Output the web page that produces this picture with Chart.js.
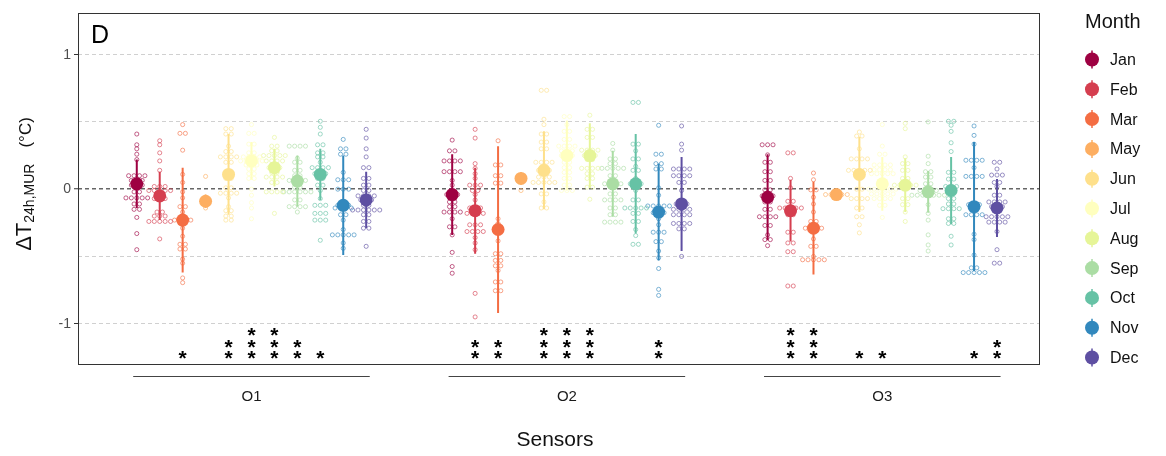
<!DOCTYPE html>
<html>
<head>
<meta charset="utf-8">
<script src="https://cdn.jsdelivr.net/npm/chart.js@4"></script>
<style>
  html, body { margin: 0; padding: 0; background: #fff; }
</style>
</head>
<body>
<canvas id="myChart" width="1166" height="456"></canvas>
<script>
const groups = ["O1", "O2", "O3"];
const months = ["Jan", "Feb", "Mar", "May", "Jun", "Jul", "Aug", "Sep", "Oct", "Nov", "Dec"];
const monthColors = ["#9E0142", "#D53E4F", "#F46D43", "#FDAE61", "#FEE08B", "#FFFFBF",
                     "#E6F598", "#ABDDA4", "#66C2A5", "#3288BD", "#5E4FA2"];
const yTicks = [-1, -0.5, 0, 0.5, 1];

// monthly mean and sd per sensor
const meanO1 = [0.04, -0.05, -0.23, -0.09, 0.11, 0.21, 0.16, 0.06, 0.11, -0.12, -0.08];
const sdO1   = [0.18, 0.18, 0.39, 0.05, 0.30, 0.14, 0.14, 0.19, 0.19, 0.37, 0.21];
const meanO2 = [-0.04, -0.16, -0.30, 0.08, 0.14, 0.25, 0.25, 0.04, 0.04, -0.17, -0.11];
const sdO2   = [0.30, 0.32, 0.62, 0.045, 0.29, 0.26, 0.24, 0.245, 0.37, 0.36, 0.35];
const meanO3 = [-0.06, -0.16, -0.29, -0.04, 0.11, 0.04, 0.03, -0.02, -0.01, -0.13, -0.14];
const sdO3   = [0.32, 0.23, 0.345, 0.02, 0.28, 0.20, 0.20, 0.155, 0.25, 0.48, 0.215];

// number of significance stars per month
const starsO1 = [0, 0, 1, 0, 2, 3, 3, 2, 1, 0, 0];
const starsO2 = [0, 2, 2, 0, 3, 3, 3, 0, 0, 2, 0];
const starsO3 = [0, 3, 3, 0, 1, 1, 0, 0, 0, 1, 2];

// daily values (dot plot) per month
const dotsO1 = [
  [0.41,0.33,0.30,0.26,0.22,0.10,0.10,0.10,0.10,0.065,0.065,0.065,0.03,0.03,0.03,-0.02,-0.02,-0.065,-0.065,-0.065,-0.065,-0.065,-0.11,-0.11,-0.15,-0.15,-0.21,-0.33,-0.45],
  [0.36,0.33,0.27,0.21,0.14,0.02,0.02,0.02,-0.01,-0.01,-0.01,-0.01,-0.01,-0.07,-0.07,-0.07,-0.17,-0.17,-0.20,-0.20,-0.20,-0.24,-0.24,-0.24,-0.24,-0.24,-0.37],
  [0.48,0.415,0.415,0.29,0.11,0.05,-0.02,-0.065,-0.13,-0.13,-0.17,-0.23,-0.23,-0.23,-0.23,-0.29,-0.35,-0.41,-0.41,-0.445,-0.445,-0.52,-0.55,-0.66,-0.695],
  [0.095,-0.06,-0.09,-0.14],
  [0.45,0.45,0.41,0.41,0.32,0.28,0.28,0.24,0.24,0.24,0.24,0.20,0.20,0.11,0.11,0.08,0.08,0.01,0.01,-0.03,-0.03,-0.03,-0.03,-0.065,-0.13,-0.16,-0.16,-0.20,-0.20,-0.23,-0.23],
  [0.48,0.415,0.415,0.335,0.335,0.27,0.27,0.24,0.24,0.24,0.24,0.21,0.21,0.21,0.21,0.21,0.18,0.18,0.18,0.15,0.15,0.115,0.115,0.08,0.08,0.0,-0.045,-0.10,-0.14,-0.22],
  [0.385,0.32,0.32,0.285,0.285,0.25,0.25,0.25,0.25,0.25,0.21,0.21,0.21,0.21,0.16,0.16,0.16,0.125,0.125,0.09,0.09,0.09,0.09,0.05,0.05,-0.02,-0.02,-0.02,-0.02,-0.18],
  [0.32,0.32,0.32,0.32,0.23,0.20,0.20,0.14,0.14,0.10,0.10,0.065,0.065,0.065,0.065,0.015,0.015,-0.02,-0.02,-0.02,-0.02,-0.02,-0.02,-0.08,-0.08,-0.13,-0.13,-0.13,-0.13,-0.17],
  [0.505,0.46,0.41,0.33,0.33,0.27,0.27,0.24,0.24,0.20,0.16,0.16,0.16,0.16,0.115,0.115,0.115,0.08,0.08,0.03,0.03,-0.01,-0.07,-0.12,-0.12,-0.12,-0.18,-0.18,-0.18,-0.23,-0.23,-0.23,-0.38],
  [0.37,0.30,0.30,0.26,0.26,0.125,0.07,0.07,0.07,0.0,0.0,0.0,-0.12,-0.12,-0.12,-0.14,-0.14,-0.14,-0.14,-0.19,-0.19,-0.23,-0.30,-0.34,-0.34,-0.34,-0.34,-0.34,-0.40,-0.44],
  [0.445,0.38,0.30,0.24,0.16,0.16,0.08,0.08,0.03,0.03,-0.01,-0.01,-0.05,-0.05,-0.05,-0.05,-0.08,-0.08,-0.08,-0.12,-0.12,-0.155,-0.155,-0.155,-0.155,-0.155,-0.155,-0.19,-0.19,-0.24,-0.24,-0.29,-0.29,-0.425]
];
const dotsO2 = [
  [0.365,0.285,0.285,0.21,0.21,0.21,0.21,0.13,0.13,0.13,0.13,0.065,0.03,-0.04,-0.04,-0.04,-0.095,-0.095,-0.13,-0.13,-0.17,-0.17,-0.17,-0.17,-0.22,-0.28,-0.28,-0.34,-0.47,-0.575,-0.625],
  [0.445,0.38,0.19,0.155,0.115,0.08,0.03,0.03,0.03,-0.01,-0.01,-0.04,-0.08,-0.14,-0.14,-0.14,-0.18,-0.18,-0.18,-0.18,-0.265,-0.265,-0.265,-0.315,-0.315,-0.315,-0.315,-0.36,-0.40,-0.45,-0.775,-0.95],
  [0.36,0.18,0.18,0.10,0.10,0.045,0.045,-0.22,-0.255,-0.30,-0.30,-0.385,-0.48,-0.48,-0.53,-0.53,-0.57,-0.57,-0.605,-0.69,-0.69,-0.755,-0.755],
  [0.10,0.08,0.06,-0.01],
  [0.735,0.735,0.52,0.48,0.41,0.41,0.35,0.35,0.30,0.30,0.20,0.20,0.20,0.20,0.14,0.14,0.14,0.09,0.09,0.09,0.05,0.05,0.05,0.05,0.05,-0.035,-0.035,-0.095,-0.14,-0.14],
  [0.54,0.54,0.48,0.43,0.43,0.37,0.37,0.32,0.32,0.32,0.32,0.285,0.285,0.285,0.25,0.25,0.25,0.20,0.20,0.16,0.16,0.125,0.125,0.08,0.08,0.03,0.03,-0.01,-0.01,-0.01],
  [0.55,0.445,0.445,0.385,0.385,0.29,0.29,0.29,0.29,0.25,0.25,0.25,0.22,0.22,0.155,0.155,0.155,0.155,0.115,0.115,0.08,0.08,0.015,0.015,-0.075],
  [0.34,0.29,0.225,0.225,0.19,0.19,0.155,0.155,0.155,0.155,0.155,0.10,0.10,0.04,0.04,0.04,0.04,-0.035,-0.035,-0.08,-0.08,-0.08,-0.08,-0.14,-0.14,-0.19,-0.19,-0.245,-0.245,-0.245,-0.245],
  [0.645,0.645,0.335,0.335,0.285,0.225,0.225,0.17,0.14,0.14,0.08,0.04,0.04,0.04,-0.01,-0.08,-0.08,-0.14,-0.14,-0.14,-0.14,-0.14,-0.18,-0.18,-0.24,-0.24,-0.30,-0.345,-0.41,-0.41],
  [0.475,0.26,0.26,0.19,0.19,0.15,0.15,0.01,-0.045,-0.125,-0.125,-0.125,-0.125,-0.125,-0.175,-0.175,-0.175,-0.22,-0.265,-0.32,-0.32,-0.32,-0.39,-0.39,-0.46,-0.51,-0.59,-0.745,-0.79],
  [0.47,0.335,0.29,0.15,0.15,0.15,0.15,0.10,0.10,0.10,0.10,0.05,0.05,-0.01,-0.11,-0.11,-0.11,-0.15,-0.15,-0.15,-0.15,-0.19,-0.19,-0.19,-0.19,-0.255,-0.255,-0.255,-0.255,-0.295,-0.295,-0.50]
];
const dotsO3 = [
  [0.33,0.33,0.33,0.255,0.20,0.20,0.13,0.13,0.065,0.065,-0.005,-0.005,-0.05,-0.05,-0.05,-0.095,-0.095,-0.15,-0.15,-0.205,-0.205,-0.205,-0.205,-0.27,-0.27,-0.34,-0.375,-0.375,-0.42],
  [0.27,0.27,0.08,0.01,-0.09,-0.09,-0.14,-0.14,-0.14,-0.14,-0.14,-0.19,-0.19,-0.32,-0.32,-0.40,-0.40,-0.465,-0.465,-0.72,-0.72],
  [0.12,0.07,-0.005,-0.005,-0.06,-0.11,-0.17,-0.24,-0.24,-0.29,-0.29,-0.29,-0.29,-0.37,-0.425,-0.425,-0.50,-0.525,-0.525,-0.525,-0.525,-0.525],
  [-0.04,-0.04,-0.04,-0.04,-0.04],
  [0.425,0.395,0.395,0.30,0.225,0.225,0.225,0.225,0.14,0.14,0.14,0.14,0.14,0.105,0.105,0.0,0.0,-0.07,-0.07,-0.07,-0.07,-0.14,-0.14,-0.205,-0.205,-0.265,-0.325],
  [0.48,0.32,0.26,0.26,0.18,0.18,0.18,0.18,0.145,0.145,0.145,0.145,0.115,0.115,0.115,0.115,0.115,0.04,0.04,0.0,0.0,0.0,0.0,0.0,0.0,-0.035,-0.035,-0.035,-0.035,-0.035,-0.07,-0.07,-0.07,-0.07,-0.12,-0.12,-0.21],
  [0.49,0.45,0.24,0.19,0.19,0.14,0.14,0.08,0.08,0.03,0.03,0.03,0.03,0.03,-0.07,-0.07,-0.115,-0.115,-0.17,-0.24],
  [0.50,0.245,0.19,0.13,0.13,0.09,0.09,0.04,0.04,-0.01,-0.01,-0.01,-0.01,-0.045,-0.045,-0.045,-0.045,-0.045,-0.045,-0.045,-0.115,-0.18,-0.23,-0.34,-0.415,-0.46],
  [0.505,0.505,0.475,0.43,0.345,0.28,0.125,0.125,0.075,0.075,0.02,0.02,0.02,-0.01,-0.01,-0.07,-0.07,-0.11,-0.11,-0.145,-0.145,-0.145,-0.145,-0.22,-0.22,-0.255,-0.255,-0.35,-0.415],
  [0.47,0.40,0.335,0.215,0.215,0.215,0.215,0.16,0.095,0.095,0.095,0.095,-0.115,-0.115,-0.115,-0.19,-0.19,-0.19,-0.19,-0.335,-0.375,-0.49,-0.585,-0.585,-0.62,-0.62,-0.62,-0.62,-0.62],
  [0.20,0.20,0.15,0.105,0.105,0.105,0.05,0.05,0.02,-0.045,-0.045,-0.095,-0.095,-0.095,-0.095,-0.13,-0.13,-0.13,-0.205,-0.205,-0.205,-0.205,-0.205,-0.245,-0.245,-0.245,-0.245,-0.315,-0.45,-0.55,-0.55]
];

const means = [meanO1, meanO2, meanO3];
const sds = [sdO1, sdO2, sdO3];
const dots = [dotsO1, dotsO2, dotsO3];
const stars = [starsO1, starsO2, starsO3];

const FONT = "'Liberation Sans', Arial, sans-serif";
const DODGE = 0.8;        // dodge width, like position_dodge(0.8)
const DOT_STEP = 0.0172;  // horizontal step between stacked dots
const STAR_Y = -1.215;    // first row of stars
const STAR_DY = 0.085;

function xPos(g, m) {
  return g + 1 + (m - (months.length - 1) / 2) * DODGE / months.length;
}

function withAlpha(hex, a) {
  const n = parseInt(hex.slice(1), 16);
  return `rgba(${n >> 16},${(n >> 8) & 255},${n & 255},${a})`;
}

const datasets = [];
months.forEach((name, m) => {
  const color = monthColors[m];
  const pts = [];
  dots.forEach((grp, g) => {
    const vals = grp[m];
    const counts = {};
    vals.forEach(v => { counts[v] = (counts[v] || 0) + 1; });
    const seen = {};
    vals.forEach(v => {
      const n = counts[v];
      const j = seen[v] = (seen[v] === undefined ? 0 : seen[v] + 1);
      pts.push({ x: xPos(g, m) + (j - (n - 1) / 2) * DOT_STEP, y: v });
    });
  });
  datasets.push({
    type: "scatter", label: name + " days", data: pts,
    pointRadius: 2.05, pointBorderWidth: 1,
    pointBackgroundColor: "rgba(0,0,0,0)", pointBorderColor: withAlpha(color, 0.62),
    order: 3
  });

  const bars = [];
  groups.forEach((gName, g) => {
    bars.push({ x: xPos(g, m), y: means[g][m] - sds[g][m] });
    bars.push({ x: xPos(g, m), y: means[g][m] + sds[g][m] });
    bars.push({ x: xPos(g, m), y: null });
  });
  datasets.push({
    type: "line", label: name + " sd", data: bars,
    borderColor: color, borderWidth: 2, pointRadius: 0, spanGaps: false, fill: false,
    order: 2
  });

  datasets.push({
    type: "scatter", label: name,
    data: groups.map((gName, g) => ({ x: xPos(g, m), y: means[g][m] })),
    pointRadius: 6.5, pointBorderWidth: 0,
    pointBackgroundColor: color, pointBorderColor: color,
    order: 1
  });
});

const decorations = {
  id: "decorations",
  afterDraw(chart) {
    const { ctx, chartArea: a, scales: { x, y } } = chart;
    ctx.save();

    // panel border
    ctx.strokeStyle = "#333";
    ctx.lineWidth = 1;
    ctx.strokeRect(a.left + 0.5, a.top + 0.5, a.right - a.left - 1, a.bottom - a.top);

    // significance stars
    ctx.fillStyle = "#000";
    ctx.font = `bold 21px ${FONT}`;
    ctx.textAlign = "center";
    ctx.textBaseline = "alphabetic";
    stars.forEach((row, g) => {
      row.forEach((n, m) => {
        for (let k = 0; k < n; k++) {
          const px = x.getPixelForValue(xPos(g, m));
          const py = y.getPixelForValue(STAR_Y + k * STAR_DY);
          ctx.fillText("*", px, py + 12.5);
        }
      });
    });

    // panel tag
    ctx.font = `25px ${FONT}`;
    ctx.textAlign = "left";
    ctx.fillText("D", a.left + 13, a.top + 30);

    // sensor brackets and labels
    ctx.strokeStyle = "#444";
    ctx.lineWidth = 1.2;
    ctx.fillStyle = "#1a1a1a";
    ctx.font = `15px ${FONT}`;
    ctx.textAlign = "center";
    ctx.textBaseline = "middle";
    groups.forEach((gName, g) => {
      const x0 = x.getPixelForValue(g + 1 - 0.375);
      const x1 = x.getPixelForValue(g + 1 + 0.375);
      ctx.beginPath();
      ctx.moveTo(x0, a.bottom + 12.5);
      ctx.lineTo(x1, a.bottom + 12.5);
      ctx.stroke();
      ctx.fillText(gName, x.getPixelForValue(g + 1), a.bottom + 33);
    });

    // x title
    ctx.fillStyle = "#111";
    ctx.font = `21px ${FONT}`;
    ctx.fillText("Sensors", (a.left + a.right) / 2 - 4, a.bottom + 76);

    // y title
    ctx.save();
    ctx.translate(31, 184);
    ctx.rotate(-Math.PI / 2);
    ctx.textAlign = "left";
    ctx.textBaseline = "alphabetic";
    const parts = [
      { t: "\u0394T", f: `22px ${FONT}`, dy: 0, gap: 0 },
      { t: "24h,MUR", f: `14px ${FONT}`, dy: 3, gap: 0 },
      { t: "(\u00B0C)", f: `17px ${FONT}`, dy: 0, gap: 16 }
    ];
    let total = 0;
    parts.forEach(p => { ctx.font = p.f; p.w = ctx.measureText(p.t).width; total += p.w + p.gap; });
    let cx = -total / 2;
    parts.forEach(p => {
      cx += p.gap;
      ctx.font = p.f;
      ctx.fillText(p.t, cx, p.dy);
      cx += p.w;
    });
    ctx.restore();

    // legend
    const lx = a.right + 52;
    ctx.fillStyle = "#111";
    ctx.font = `20px ${FONT}`;
    ctx.textAlign = "left";
    ctx.textBaseline = "middle";
    ctx.fillText("Month", a.right + 45, 22);
    ctx.font = `16px ${FONT}`;
    months.forEach((name, m) => {
      const cy = 59.5 + m * 29.8;
      ctx.strokeStyle = monthColors[m];
      ctx.lineWidth = 1.5;
      ctx.beginPath();
      ctx.moveTo(lx, cy - 9);
      ctx.lineTo(lx, cy + 9);
      ctx.stroke();
      ctx.fillStyle = monthColors[m];
      ctx.beginPath();
      ctx.arc(lx, cy, 7, 0, Math.PI * 2);
      ctx.fill();
      ctx.fillStyle = "#111";
      ctx.fillText(name, lx + 18, cy + 1);
    });

    ctx.restore();
  }
};

const config = {
  type: "scatter",
  data: { datasets },
  options: {
    responsive: false,
    animation: false,
    events: [],
    layout: { padding: { top: 13, right: 126, bottom: 92, left: 0 } },
    plugins: { legend: { display: false }, tooltip: { enabled: false } },
    scales: {
      x: { type: "linear", min: 0.45, max: 3.5, display: false },
      y: {
        type: "linear", min: -1.3, max: 1.31,
        afterFit(scale) { scale.width = 78; },
        afterBuildTicks(scale) { scale.ticks = yTicks.map(v => ({ value: v })); },
        ticks: {
          font: { family: FONT, size: 14 }, color: "#4d4d4d", padding: 3,
          callback: v => Number.isInteger(v) ? String(v) : ""
        },
        grid: {
          color: c => c.tick && c.tick.value === 0 ? "#666" : "#d0d0d0",
          lineWidth: c => c.tick && c.tick.value === 0 ? 1.5 : 1,
          tickColor: c => c.tick && Number.isInteger(c.tick.value) ? "#333" : "rgba(0,0,0,0)",
          tickLength: 4,
          tickWidth: 1
        },
        border: { display: false, dash: [4, 3] }
      }
    }
  },
  plugins: [decorations]
};

const ctx = document.getElementById("myChart");
const myChart = new Chart(ctx, config);
</script>
</body>
</html>
